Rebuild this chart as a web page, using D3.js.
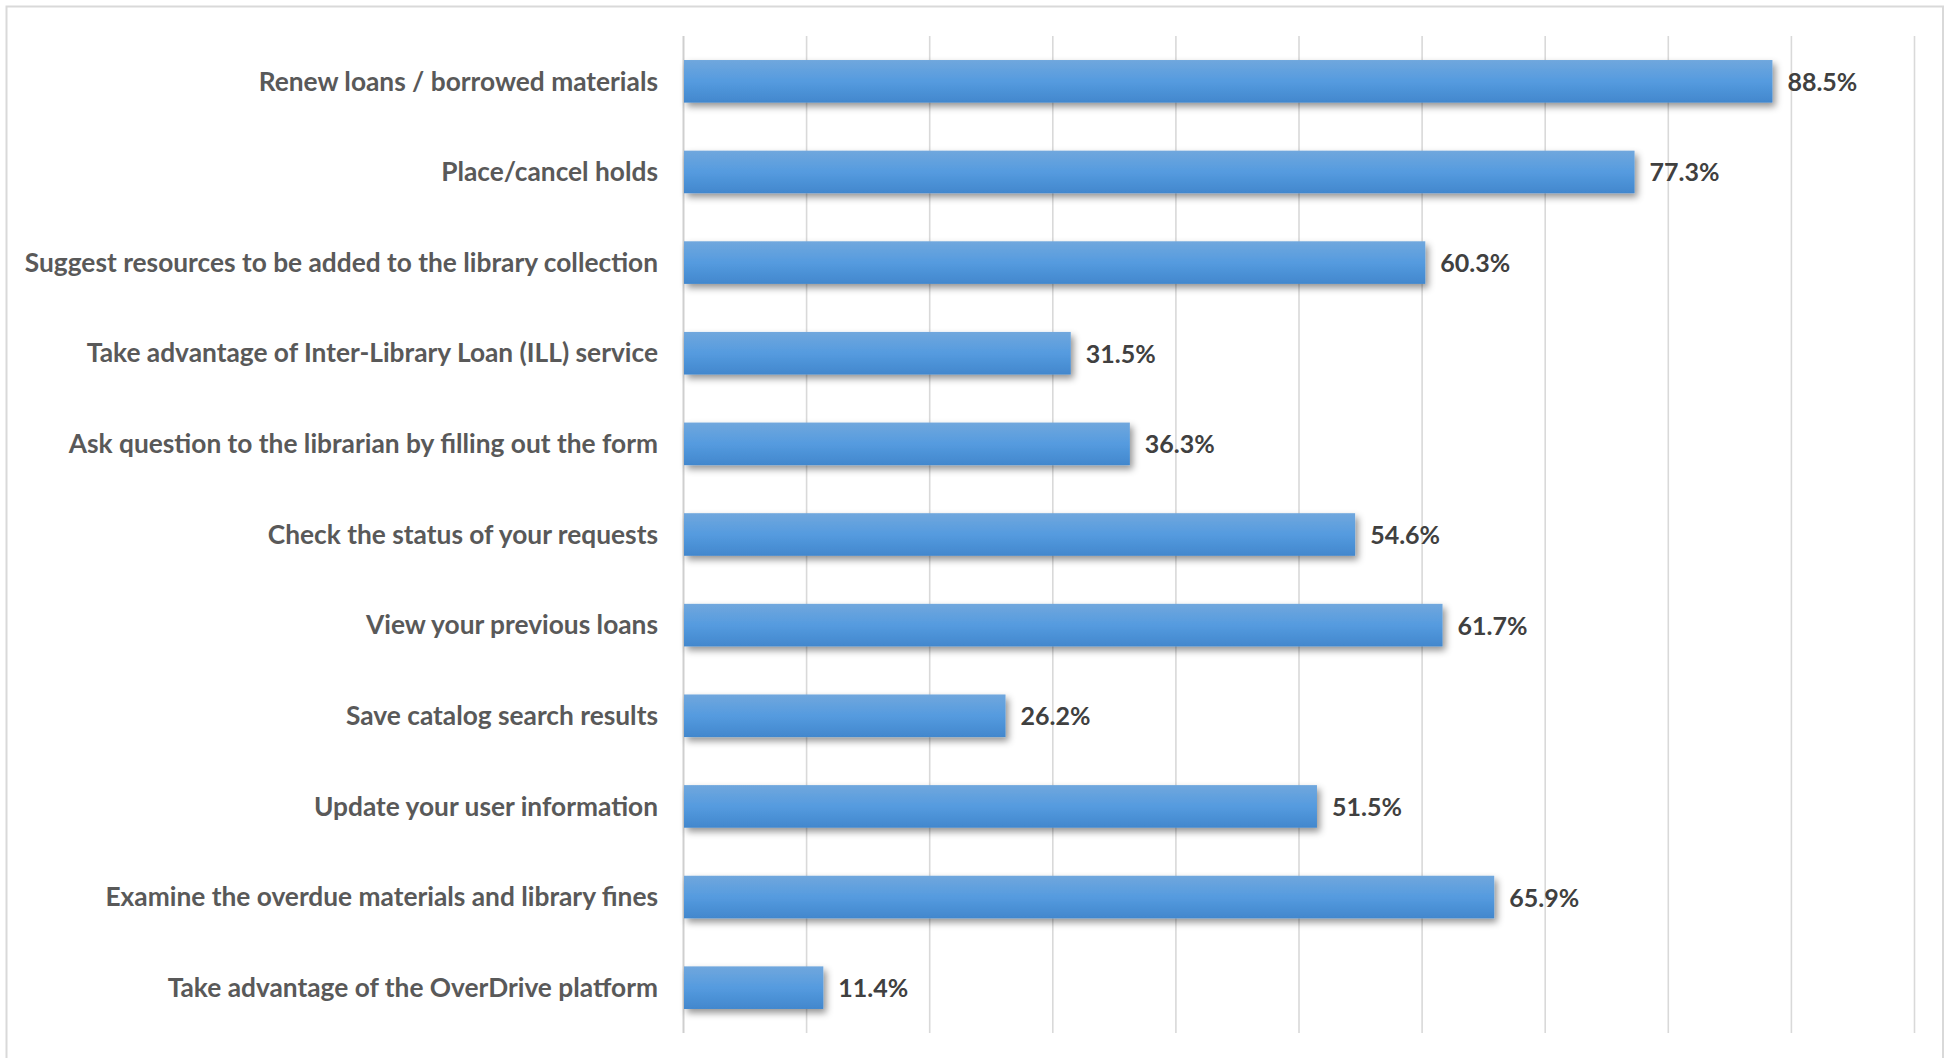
<!DOCTYPE html>
<html>
<head>
<meta charset="utf-8">
<script src="https://cdn.jsdelivr.net/npm/d3@7"></script>
<style>
  html, body { margin: 0; padding: 0; background: #fff; }
  svg { display: block; }
</style>
</head>
<body>
<svg id="chart" width="1954" height="1058"></svg>
<script>
// Share of respondents who use each online library service (%)
const categories = [
  "Renew loans / borrowed materials",
  "Place/cancel holds",
  "Suggest resources to be added to the library collection",
  "Take advantage of Inter-Library Loan (ILL) service",
  "Ask question to the librarian by filling out the form",
  "Check the status of your requests",
  "View your previous loans",
  "Save catalog search results",
  "Update your user information",
  "Examine the overdue materials and library fines",
  "Take advantage of the OverDrive platform"
];
const values = [88.5, 77.3, 60.3, 31.5, 36.3, 54.6, 61.7, 26.2, 51.5, 65.9, 11.4];
const gridTicks = [0, 10, 20, 30, 40, 50, 60, 70, 80, 90, 100];

const W = 1954, H = 1058;
const plot = { left: 683, right: 1914, top: 36, bottom: 1033 };
const svg = d3.select("#chart");

// outer frame
svg.append("rect")
  .attr("x", 6.5).attr("y", 6.5)
  .attr("width", 1943 - 6.5).attr("height", H + 10)
  .attr("fill", "#fff").attr("stroke", "#d9d9d9").attr("stroke-width", 2);

const defs = svg.append("defs");
const grad = defs.append("linearGradient")
  .attr("id", "barFill").attr("x1", 0).attr("y1", 0).attr("x2", 0).attr("y2", 1);
grad.append("stop").attr("offset", "0%").attr("stop-color", "#70a7dd");
grad.append("stop").attr("offset", "50%").attr("stop-color", "#559bdf");
grad.append("stop").attr("offset", "100%").attr("stop-color", "#4287cd");

const shadow = defs.append("filter").attr("id", "barShadow")
  .attr("x", "-5%").attr("y", "-30%").attr("width", "115%").attr("height", "180%");
shadow.append("feDropShadow")
  .attr("dx", 3).attr("dy", 4).attr("stdDeviation", 3.5)
  .attr("flood-color", "#000").attr("flood-opacity", 0.42);

const x = d3.scaleLinear().domain([0, 100]).range([plot.left, plot.right]);
const y = d3.scaleBand().domain(categories)
  .range([plot.top, plot.bottom])
  .paddingInner(0.53).paddingOuter(0.265);

// vertical gridlines
const grid = svg.append("g")
  .attr("transform", `translate(0,${plot.bottom})`)
  .call(d3.axisBottom(x).tickValues(gridTicks)
    .tickSize(-(plot.bottom - plot.top)).tickFormat(""));
grid.select(".domain").remove();
grid.selectAll(".tick line")
  .attr("stroke", "#d9d9d9").attr("stroke-width", 1.6);
grid.selectAll(".tick").filter(d => d === 0).select("line")
  .attr("stroke", "#cfcfcf").attr("stroke-width", 2);

// category labels
const yAxis = svg.append("g")
  .attr("transform", `translate(${plot.left},0)`)
  .call(d3.axisLeft(y).tickSize(0).tickPadding(25));
yAxis.select(".domain").remove();
yAxis.selectAll("text")
  .attr("font-family", "Lato, 'Open Sans', sans-serif")
  .attr("font-weight", "bold")
  .attr("font-size", 26.3)
  .attr("fill", "#595959")
  .attr("dy", "0.35em");

// bars
svg.append("g").selectAll("rect")
  .data(values)
  .join("rect")
  .attr("x", x(0) + 1)
  .attr("y", (d, i) => y(categories[i]))
  .attr("width", d => x(d) - x(0) - 1)
  .attr("height", y.bandwidth())
  .attr("fill", "url(#barFill)")
  .attr("filter", "url(#barShadow)");

// value labels
svg.append("g").selectAll("text")
  .data(values)
  .join("text")
  .attr("x", d => x(d) + 15)
  .attr("y", (d, i) => y(categories[i]) + y.bandwidth() / 2)
  .attr("dy", "0.38em")
  .attr("font-family", "Lato, 'Open Sans', sans-serif")
  .attr("font-weight", "bold")
  .attr("font-size", 25)
  .attr("fill", "#404040")
  .text(d => d.toFixed(1) + "%");
</script>
</body>
</html>
